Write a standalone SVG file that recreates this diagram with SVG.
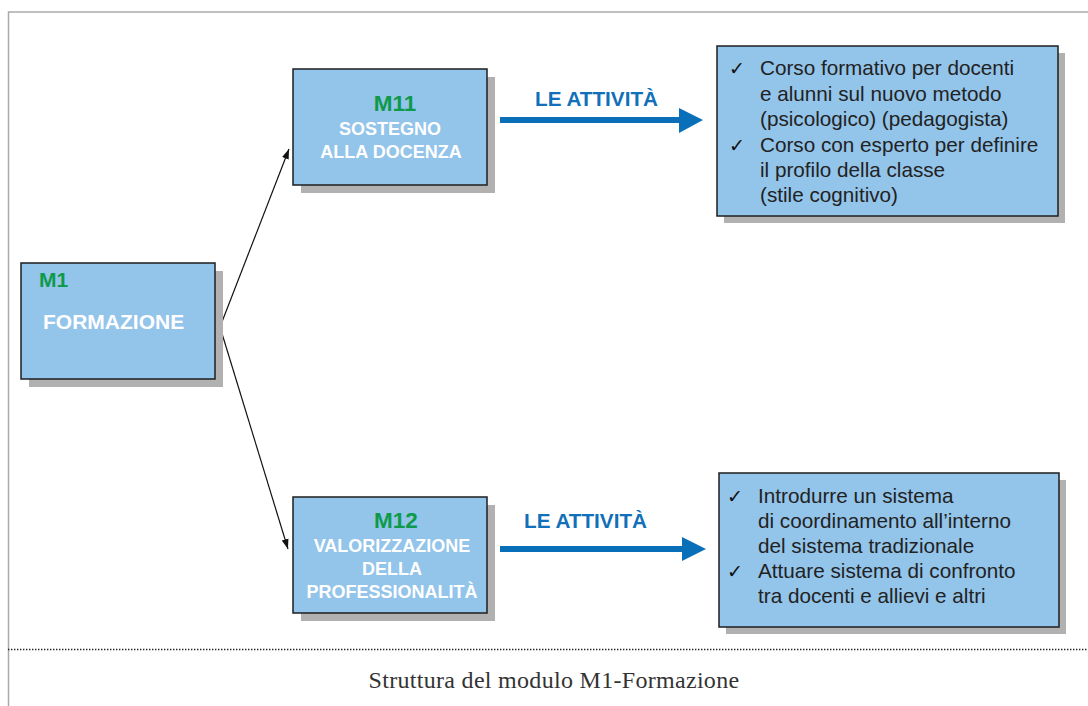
<svg xmlns="http://www.w3.org/2000/svg" width="1088" height="706" viewBox="0 0 1088 706">
<defs>
<style>
.box{fill:#93c4ea;stroke:#1e1e1e;stroke-width:1.5}
.shadow{fill:#b1b1b1}
.m{font-family:"Liberation Sans",Arial,sans-serif;font-weight:bold;fill:#0e9a4a}
.w{font-family:"Liberation Sans",Arial,sans-serif;font-weight:bold;fill:#ffffff;font-size:18px;text-anchor:middle}
.t{font-family:"Liberation Sans",Arial,sans-serif;fill:#222;font-size:20.7px}
.ck{font-family:"DejaVu Sans",sans-serif;fill:#111;font-size:19px}
.la{font-family:"Liberation Sans",Arial,sans-serif;font-weight:bold;fill:#1170b9;font-size:20.7px}
.blue{fill:#0a6fb9}
.conn{stroke:#111;stroke-width:1.2;fill:none}
</style>
<marker id="ah" viewBox="0 0 10 10" refX="10" refY="5" markerWidth="10" markerHeight="10" markerUnits="userSpaceOnUse" orient="auto">
<path d="M0,1.5 L10,5 L0,8.5 Z" fill="#111"/>
</marker>
</defs>
<rect width="1088" height="706" fill="#ffffff"/>
<!-- frame -->
<path d="M8.5,706 V12 H1088" fill="none" stroke="#aaaaaa" stroke-width="1.5"/>
<line x1="8" y1="649.5" x2="1088" y2="649.5" stroke="#222" stroke-width="1.6" stroke-dasharray="1.4 1.6"/>
<text x="554" y="688" text-anchor="middle" font-family="Liberation Serif,'Times New Roman',serif" font-size="24" letter-spacing="0.3" fill="#333">Struttura del modulo M1-Formazione</text>

<g id="connectors">
<line class="conn" x1="220" y1="327" x2="289" y2="149" marker-end="url(#ah)"/>
<line class="conn" x1="220" y1="327" x2="288" y2="549" marker-end="url(#ah)"/>
<rect class="blue" x="500" y="117" width="181" height="6"/>
<polygon class="blue" points="679,108 703,120 679,133"/>
<rect class="blue" x="500" y="546" width="183" height="6"/>
<polygon class="blue" points="682,537 706,549 682,561"/>
<text class="la" x="535" y="106">LE ATTIVITÀ</text>
<text class="la" x="524" y="528">LE ATTIVITÀ</text>
</g>

<g id="M1">
<rect class="shadow" x="29" y="271" width="194" height="116"/>
<rect class="box" x="21" y="263" width="194" height="116"/>
<text class="m" x="39" y="287" font-size="21">M1</text>
<text x="43" y="329" font-family="Liberation Sans,Arial,sans-serif" font-weight="bold" font-size="21" fill="#fff">FORMAZIONE</text>
</g>

<g id="M11">
<rect class="shadow" x="301" y="77" width="194" height="116"/>
<rect class="box" x="293" y="69" width="194" height="116"/>
<text class="m" x="395" y="111" font-size="22.5" text-anchor="middle">M11</text>
<text class="w" x="390" y="135">SOSTEGNO</text>
<text class="w" x="391" y="158">ALLA DOCENZA</text>
</g>

<g id="M12">
<rect class="shadow" x="301" y="505" width="194" height="116"/>
<rect class="box" x="293" y="497" width="194" height="116"/>
<text class="m" x="396" y="528" font-size="22.5" text-anchor="middle">M12</text>
<text class="w" x="392" y="552">VALORIZZAZIONE</text>
<text class="w" x="392" y="575">DELLA</text>
<text class="w" x="392" y="598">PROFESSIONALITÀ</text>
</g>

<g id="A11">
<rect class="shadow" x="724" y="53" width="341" height="170"/>
<rect class="box" x="717" y="46" width="341" height="170"/>
<text class="ck" x="729" y="75">✓</text>
<text class="t" x="760" y="75">Corso formativo per docenti</text>
<text class="t" x="760" y="100.5">e alunni sul nuovo metodo</text>
<text class="t" x="760" y="126">(psicologico) (pedagogista)</text>
<text class="ck" x="729" y="151.5">✓</text>
<text class="t" x="760" y="151.5">Corso con esperto per definire</text>
<text class="t" x="760" y="177">il profilo della classe</text>
<text class="t" x="760" y="202">(stile cognitivo)</text>
</g>

<g id="A12">
<rect class="shadow" x="726" y="480" width="340" height="154"/>
<rect class="box" x="719" y="473" width="340" height="154"/>
<text class="ck" x="727" y="503">✓</text>
<text class="t" x="758" y="503">Introdurre un sistema</text>
<text class="t" x="758" y="528">di coordinamento all’interno</text>
<text class="t" x="758" y="553">del sistema tradizionale</text>
<text class="ck" x="727" y="578">✓</text>
<text class="t" x="758" y="578">Attuare sistema di confronto</text>
<text class="t" x="758" y="603">tra docenti e allievi e altri</text>
</g>
</svg>
